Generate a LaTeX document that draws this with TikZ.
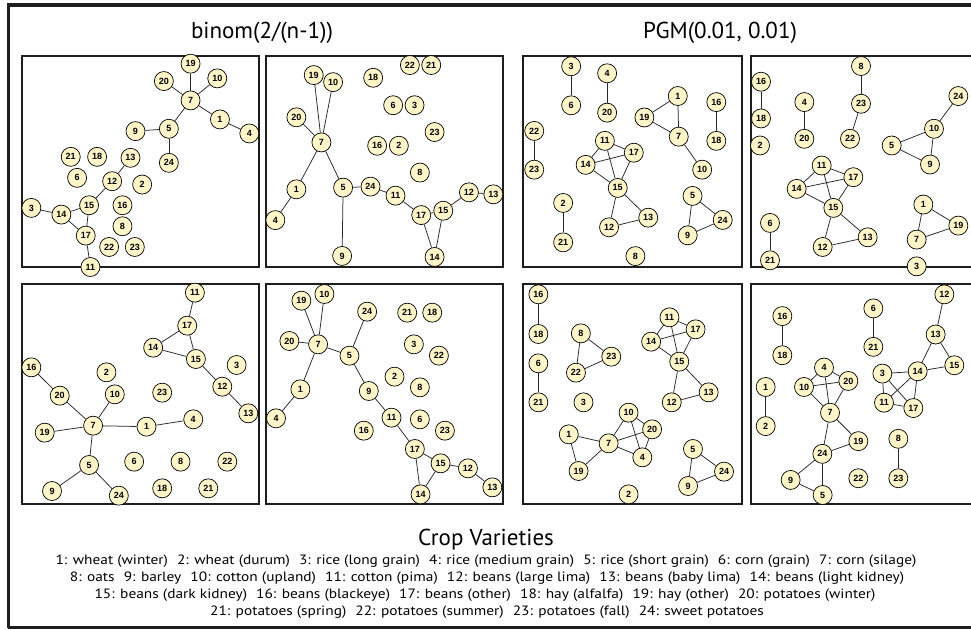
\documentclass[tikz,border=0pt]{standalone}
\usepackage{fontspec}
\usepackage{graphicx}
\setmainfont{PT Sans}
\newfontfamily\nodefont{Liberation Sans}
\usetikzlibrary{shapes.geometric}
\definecolor{cream}{RGB}{255,245,200}
\definecolor{edgegray}{RGB}{40,40,40}
\definecolor{framegray}{RGB}{30,30,30}
\tikzset{
  crop/.style={ellipse, draw=black, line width=0.7pt, fill=cream, minimum width=19pt, minimum height=19pt,
    inner xsep=1.5pt, inner ysep=1pt, font=\nodefont\bfseries\fontsize{9}{9}\selectfont},
  link/.style={draw=edgegray, line width=0.75pt},
  panelbox/.style={draw=framegray, line width=1.1pt},
  titletext/.style={font=\fontsize{23}{23}\selectfont},
  legendtext/.style={font=\fontsize{13.5}{14}\selectfont, inner sep=0pt},
}
\newcommand\sepgap{\hspace{8pt}}
\newcommand\legline[1]{\scalebox{1.14}[1]{#1}}
\begin{document}
\begin{tikzpicture}[x=1pt,y=-1pt]
\useasboundingbox (0,0) rectangle (971,629);
\fill[white] (0,0) rectangle (971,629);
% outer frame
\draw[framegray, line width=4.2pt] (6.5,5.2) -- (990,5.2);
\draw[framegray, line width=2.5pt] (8.5,3) -- (8.5,628);
\draw[framegray, line width=2.2pt] (7.5,627.5) -- (990,627.5);
% titles
\node[titletext] (t1) at (262,33) {binom(2/(n-1))};
\node[titletext] (t2) at (720,33) {PGM(0.01, 0.01)};

% ---------- Panel 1 ----------
\begin{scope}[shift={(22,56)}, x={(0.33380pt,0pt)}, y={(0pt,-0.33386pt)}, shift={(-12,-65)}]
\draw[panelbox] (12,65) rectangle (722,697);
\foreach \n/\px/\py in {19/517/88, 20/437/140, 10/597/132, 7/517/198, 1/605/255, 4/693/297, 9/352/290, 5/452/283,
  24/452/385, 21/158/367, 18/237/367, 13/337/370, 6/177/430, 12/282/440, 2/372/450, 3/40/520, 14/130/540,
  15/213/512, 16/313/512, 17/203/603, 8/313/575, 22/273/637, 23/350/637, 11/217/697}
  \node[crop] (a\n) at (\px,\py) {\n};
\foreach \u/\v in {19/7, 20/7, 10/7, 7/1, 1/4, 7/5, 9/5, 5/24, 13/12, 12/15, 3/14, 14/15, 14/17, 15/17, 17/11}
  \draw[link] (a\u) -- (a\v);
\end{scope}

% ---------- Panel 2 ----------
\begin{scope}[shift={(266,56)}, x={(0.33380pt,0pt)}, y={(0pt,-0.33492pt)}, shift={(-12,-65)}]
\draw[panelbox] (12,65) rectangle (722,695);
\foreach \n/\px/\py in {22/443/92, 21/507/92, 19/155/122, 10/213/143, 18/333/130, 6/393/212, 3/457/212, 20/103/248,
  23/517/292, 7/178/323, 16/345/333, 2/410/333, 8/473/413, 1/103/463, 5/243/458, 24/325/455, 11/400/482,
  12/620/472, 13/693/478, 15/543/527, 17/477/540, 4/40/555, 9/240/662, 14/517/665}
  \node[crop] (b\n) at (\px,\py) {\n};
\foreach \u/\v in {19/7, 10/7, 20/7, 7/1, 7/5, 1/4, 5/9, 5/24, 24/11, 11/17, 17/15, 15/12, 12/13, 17/14, 15/14}
  \draw[link] (b\u) -- (b\v);
\end{scope}

% ---------- Panel 3 ----------
\begin{scope}[shift={(523,56)}, x={(0.32111pt,0pt)}, y={(0pt,-0.32018pt)}, shift={(-15,-68)}]
\draw[panelbox] (15,68) rectangle (697,727);
\foreach \n/\px/\py in {3/165/100, 6/165/222, 4/277/122, 20/277/245, 1/497/193, 19/393/260, 7/500/320, 16/617/212,
  18/617/333, 22/50/302, 23/50/423, 11/270/333, 17/360/370, 14/210/408, 15/310/480, 10/573/423, 5/543/505,
  24/637/580, 9/528/628, 13/405/573, 12/283/603, 2/140/527, 21/140/650, 8/365/693}
  \node[crop] (c\n) at (\px,\py) {\n};
\foreach \u/\v in {3/6, 4/20, 1/19, 1/7, 19/7, 7/10, 16/18, 22/23, 11/17, 11/14, 11/15, 14/17, 14/15, 17/15,
  15/12, 15/13, 12/13, 5/24, 5/9, 9/24, 2/21}
  \draw[link] (c\u) -- (c\v);
\end{scope}

% ---------- Panel 4 ----------
\begin{scope}[shift={(751,56)}, x={(0.33333pt,0pt)}, y={(0pt,-0.33386pt)}, shift={(-18,-65)}]
\draw[panelbox] (18,65) rectangle (700,697);
\foreach \n/\px/\py in {8/348/95, 16/48/142, 18/48/252, 4/178/203, 20/178/313, 23/348/208, 22/315/313, 24/640/185,
  10/567/283, 5/440/333, 9/555/390, 2/45/333, 11/230/393, 17/325/428, 14/155/463, 15/265/520, 1/535/510,
  19/640/573, 7/515/615, 13/368/608, 12/233/637, 6/75/565, 21/75/677, 3/515/695}
  \node[crop] (d\n) at (\px,\py) {\n};
\foreach \u/\v in {8/23, 23/22, 16/18, 4/20, 24/10, 10/5, 10/9, 5/9, 11/17, 11/14, 11/15, 14/17, 14/15, 17/15,
  15/12, 15/13, 12/13, 1/19, 1/7, 7/19, 6/21}
  \draw[link] (d\u) -- (d\v);
\end{scope}

% ---------- Panel 5 ----------
\begin{scope}[shift={(22,284)}, x={(0.33380pt,0pt)}, y={(0pt,-0.33333pt)}, shift={(-12,-12)}]
\draw[panelbox] (12,12) rectangle (722,672);
\foreach \n/\px/\py in {11/530/38, 17/507/137, 14/405/203, 15/533/237, 3/655/255, 16/40/262, 2/265/277, 12/612/320,
  20/125/347, 10/290/343, 23/432/338, 13/690/400, 4/525/418, 7/225/437, 1/385/440, 19/80/458, 5/213/555,
  6/348/545, 8/487/545, 22/627/545, 9/102/633, 24/302/647, 18/432/625, 21/570/625}
  \node[crop] (e\n) at (\px,\py) {\n};
\foreach \u/\v in {11/17, 17/14, 17/15, 14/15, 15/12, 12/13, 16/20, 20/7, 10/7, 19/7, 7/1, 1/4, 7/5, 5/9, 5/24}
  \draw[link] (e\u) -- (e\v);
\end{scope}

% ---------- Panel 6 ----------
\begin{scope}[shift={(266,284)}, x={(0.33380pt,0pt)}, y={(0pt,-0.33333pt)}, shift={(-12,-12)}]
\draw[panelbox] (12,12) rectangle (722,672);
\foreach \n/\px/\py in {10/187/42, 19/118/62, 24/315/95, 21/435/98, 18/510/98, 20/82/183, 7/168/193, 3/455/193,
  5/262/227, 22/530/227, 2/397/290, 1/115/328, 9/320/333, 8/473/322, 4/42/415, 11/388/413, 6/473/418,
  16/305/452, 23/548/452, 17/458/507, 15/535/550, 12/617/565, 14/475/643, 13/690/622}
  \node[crop] (f\n) at (\px,\py) {\n};
\foreach \u/\v in {19/7, 10/7, 20/7, 7/5, 7/1, 1/4, 5/24, 5/9, 9/11, 11/17, 17/15, 17/14, 15/14, 15/12, 12/13}
  \draw[link] (f\u) -- (f\v);
\end{scope}

% ---------- Panel 7 ----------
\begin{scope}[shift={(523,284)}, x={(0.32687pt,0pt)}, y={(0pt,-0.33333pt)}, shift={(-15,-12)}]
\draw[panelbox] (15,12) rectangle (685,672);
\foreach \n/\px/\py in {16/62/43, 18/62/162, 6/62/250, 21/62/367, 8/192/160, 23/285/230, 22/177/278, 3/200/367,
  11/463/112, 17/543/148, 14/407/185, 15/493/245, 13/583/337, 12/470/367, 10/338/398, 20/410/448,
  1/155/463, 7/277/490, 4/380/532, 19/185/573, 5/535/507, 24/630/575, 9/520/618, 2/338/643}
  \node[crop] (g\n) at (\px,\py) {\n};
\foreach \u/\v in {16/18, 6/21, 8/23, 8/22, 22/23, 11/17, 11/14, 11/15, 14/17, 14/15, 17/15, 15/12, 15/13, 12/13,
  10/20, 10/7, 10/4, 7/20, 20/4, 7/4, 1/7, 1/19, 19/7, 5/24, 5/9, 9/24}
  \draw[link] (g\u) -- (g\v);
\end{scope}

% ---------- Panel 8 ----------
\begin{scope}[shift={(751,284)}, x={(0.33333pt,0pt)}, y={(0pt,-0.33435pt)}, shift={(-18,-12)}]
\draw[panelbox] (18,12) rectangle (700,670);
\foreach \n/\px/\py in {12/598/43, 16/112/108, 6/385/85, 13/572/163, 18/112/225, 21/385/200, 4/237/262, 15/628/255,
  3/412/280, 14/518/273, 1/62/320, 10/177/320, 20/310/302, 11/417/367, 17/505/383, 7/255/397, 2/62/437,
  8/460/475, 19/340/482, 24/232/520, 22/340/593, 23/460/593, 9/137/598, 5/233/643}
  \node[crop] (h\n) at (\px,\py) {\n};
\foreach \u/\v in {12/13, 13/14, 13/15, 14/15, 6/21, 16/18, 3/14, 3/11, 3/17, 14/11, 14/17, 11/17, 4/10, 4/20,
  4/7, 10/20, 10/7, 20/7, 7/24, 7/19, 19/24, 24/9, 24/5, 9/5, 1/2, 8/23}
  \draw[link] (h\u) -- (h\v);
\end{scope}

% ---------- Legend ----------
\node[titletext] (lt) at (486,540) {Crop Varieties};
\node[legendtext] (l1) at (486,561) {\legline{1: wheat (winter)\sepgap 2: wheat (durum)\sepgap 3: rice (long grain)\sepgap 4: rice (medium grain)\sepgap 5: rice (short grain)\sepgap 6: corn (grain)\sepgap 7: corn (silage)}};
\node[legendtext] (l2) at (487,578) {\legline{8: oats\sepgap 9: barley\sepgap 10: cotton (upland)\sepgap 11: cotton (pima)\sepgap 12: beans (large lima)\sepgap 13: beans (baby lima)\sepgap 14: beans (light kidney)}};
\node[legendtext] (l3) at (485,595) {\legline{15: beans (dark kidney)\sepgap 16: beans (blackeye)\sepgap 17: beans (other)\sepgap 18: hay (alfalfa)\sepgap 19: hay (other)\sepgap 20: potatoes (winter)}};
\node[legendtext] (l4) at (487,612) {\legline{21: potatoes (spring)\sepgap 22: potatoes (summer)\sepgap 23: potatoes (fall)\sepgap 24: sweet potatoes}};
\end{tikzpicture}
\end{document}
